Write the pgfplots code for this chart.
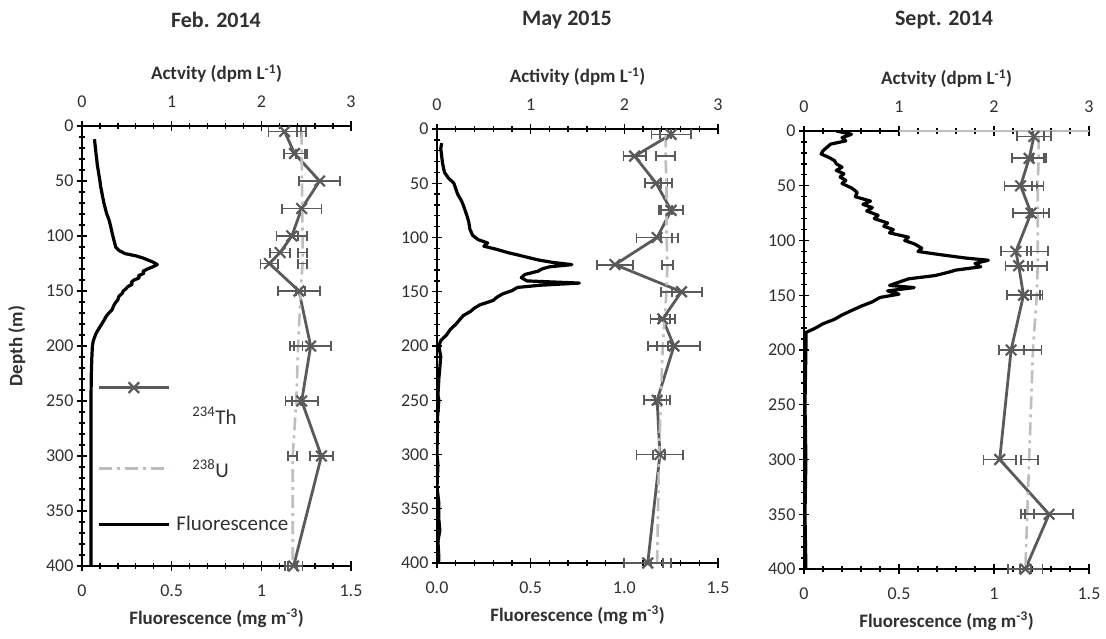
\documentclass[border=0pt]{standalone}
\usepackage{pgfplots}
\pgfplotsset{compat=1.18}
\usepackage{fontspec}
\setmainfont{Carlito}
\definecolor{thc}{HTML}{5A5A5A}
\definecolor{uc}{HTML}{BEBEBE}
\definecolor{tl}{HTML}{303030}
\pgfplotsset{
  base/.style={scale only axis, y dir=reverse, ymin=0, ymax=400,
    tick align=center, major tick length=10pt, minor tick length=6pt,
    every tick/.append style={black, line width=1.3pt},
    axis line style={black, line width=2pt},
    tick label style={font=\fontsize{18}{20}\selectfont, text=tl},
    /pgf/number format/assume math mode=true,
    label style={font=\bfseries\fontsize{19}{22}\selectfont, text=tl},
    xticklabel shift=10pt,
  },
  fl/.style={base, xmin=0, xmax=1.5, axis x line*=bottom, axis y line*=left,
    xtick={0,0.5,1,1.5}, minor x tick num=4,
    ytick={0,50,...,400}, minor y tick num=4,
    xlabel style={yshift=-6pt},
    xlabel={Fluorescence (mg m\textsuperscript{-3})}},
  act/.style={base, xmin=0, xmax=3, axis x line*=top, axis y line=none, ytick=\empty,
    xtick={0,1,2,3}, minor x tick num=4, clip=false, xlabel style={yshift=6pt}},
  flp/.style={black, line width=3.2pt, line join=round},
  ebar/.style={error bars/x dir=both, error bars/x explicit, error bars/error mark=|,
    error bars/error bar style={thc, solid, line width=1.8pt},
    error bars/error mark options={thc, solid, line width=1.8pt, mark size=5pt}},
  thp/.style={thc, line width=2.8pt, mark=x, mark size=7.5pt, mark options={solid, line width=2.2pt}, ebar},
  up/.style={uc, line width=2.6pt, dash pattern=on 13pt off 5pt on 3pt off 5pt, ebar},
  thleg/.style={legend image code/.code={\draw[##1, overlay, mark repeat=2, mark phase=2] plot coordinates {(0pt,31pt) (35pt,31pt) (70pt,31pt)};}},
  uleg/.style={legend image code/.code={\draw[##1, overlay] (0pt,3pt) -- (70pt,3pt);}},
  flleg/.style={legend image code/.code={\draw[##1] (0pt,0pt) -- (70pt,0pt);}},
}
\begin{document}
\begin{tikzpicture}
\path[use as bounding box] (0,0) rectangle (1106pt,638pt);
%================ Panel 1: Feb. 2014
\begin{axis}[fl, at={(82pt,72pt)}, anchor=south west, width=269pt, height=440pt,
  xticklabels={0,0.5,1,1.5}, ylabel={Depth (m)},
  ylabel style={at={(axis description cs:-0.242,0.5)}, anchor=center}]
\addplot[flp] coordinates {
(0.070,12) (0.072,16) (0.075,20) (0.078,25) (0.082,30) (0.085,35) (0.090,40) (0.095,45) (0.100,50) (0.104,55) (0.110,60) (0.116,65) (0.122,70) (0.130,75) (0.138,80) (0.150,85) (0.158,90) (0.165,95) (0.172,100) (0.180,105) (0.188,110) (0.205,113) (0.240,116) (0.300,118) (0.340,120) (0.370,122) (0.400,124) (0.420,126) (0.395,128) (0.365,130) (0.340,132) (0.345,134) (0.315,136) (0.320,138) (0.290,140) (0.275,142) (0.280,144) (0.255,146) (0.245,148) (0.230,150) (0.225,152) (0.205,155) (0.200,158) (0.185,161) (0.175,164) (0.168,167) (0.150,170) (0.135,173) (0.125,176) (0.110,180) (0.095,184) (0.080,188) (0.070,192) (0.062,196) (0.058,200) (0.055,210) (0.052,225) (0.050,250) (0.050,300) (0.050,350) (0.050,400)};
\end{axis}
\begin{axis}[act, at={(82pt,72pt)}, anchor=south west, width=269pt, height=440pt,
  xlabel={Actvity (dpm L\textsuperscript{-1})},
  legend cell align=left,
  legend style={draw=none, fill=none, at={(axis description cs:0.056,0.357)}, anchor=north west,
    inner sep=0pt, row sep=34pt, column sep=6pt, font=\fontsize{21}{24}\selectfont, text=tl,
    nodes={inner sep=0pt, text height=15pt, text depth=4pt}}]
\addplot[thp, thleg] coordinates {
(2.26,5) +- (0.18,0) (2.37,25) +- (0.12,0) (2.65,50) +- (0.23,0) (2.45,75) +- (0.22,0) (2.34,100) +- (0.17,0) (2.21,115) +- (0.11,0) (2.09,125) +- (0.10,0) (2.42,150) +- (0.23,0) (2.55,200) +- (0.23,0) (2.45,250) +- (0.18,0) (2.67,300) +- (0.13,0) (2.36,400) +- (0.10,0)};
\addlegendentry{\hspace{16pt}\textsuperscript{234}Th}
\addplot[up, uleg] coordinates {
(2.45,5) +- (0.05,0) (2.45,25) +- (0.06,0) (2.46,100) +- (0.05,0) (2.46,115) +- (0.05,0) (2.46,125) +- (0.05,0) (2.44,150) +- (0.05,0) (2.41,200) +- (0.05,0) (2.39,250) +- (0.05,0) (2.35,300) +- (0.05,0) (2.35,400) +- (0.05,0)};
\addlegendentry{\hspace{16pt}\textsuperscript{238}U}
\addlegendimage{black, line width=3.2pt, flleg}
\addlegendentry{Fluorescence}
\end{axis}
\node[font=\bfseries\fontsize{22}{26}\selectfont, text=tl] at (216pt,618pt) {Feb. 2014};
%================ Panel 2: May 2015
\begin{axis}[fl, at={(437pt,75pt)}, anchor=south west, width=281pt, height=434pt,
  xticklabels={0.0,0.5,1.0,1.5}]
\addplot[flp] coordinates {
(0.025,13) (0.020,18) (0.025,25) (0.030,32) (0.040,40) (0.060,45) (0.090,50) (0.100,55) (0.110,60) (0.130,66) (0.140,70) (0.150,75) (0.160,80) (0.170,86) (0.175,92) (0.190,98) (0.220,102) (0.270,105) (0.250,108) (0.320,111) (0.380,114) (0.430,116) (0.500,119) (0.550,121) (0.620,123) (0.720,125) (0.600,127) (0.560,129) (0.540,131) (0.470,134) (0.450,137) (0.480,140) (0.760,142) (0.550,144) (0.430,146) (0.400,149) (0.350,152) (0.320,155) (0.300,158) (0.230,162) (0.200,165) (0.180,168) (0.140,172) (0.120,176) (0.100,180) (0.070,185) (0.050,190) (0.020,195) (0.010,200) (0.020,210) (0.015,220) (0.010,230) (0.005,245) (0.010,250) (0.003,265) (0.000,300) (0.005,310) (0.000,330) (0.010,345) (0.010,360) (0.015,370) (0.005,380) (0.010,395) (0.008,400)};
\end{axis}
\begin{axis}[act, at={(437pt,75pt)}, anchor=south west, width=281pt, height=434pt,
  xlabel={Activity (dpm L\textsuperscript{-1})}]
\addplot[thp] coordinates {
(2.50,5) +- (0.21,0) (2.11,25) +- (0.12,0) (2.34,50) +- (0.12,0) (2.50,75) +- (0.13,0) (2.35,100) +- (0.22,0) (1.90,125) +- (0.19,0) (2.61,150) +- (0.22,0) (2.41,175) +- (0.13,0) (2.53,200) +- (0.28,0) (2.35,250) +- (0.14,0) (2.38,300) +- (0.25,0) (2.25,400) +- (0.25,0)};
\addplot[up] coordinates {
(2.44,5) +- (0.06,0) (2.44,25) +- (0.10,0) (2.45,50) +- (0.06,0) (2.45,75) +- (0.06,0) (2.45,100) +- (0.06,0) (2.46,125) +- (0.06,0) (2.45,150) +- (0.06,0) (2.43,175) +- (0.06,0) (2.41,200) +- (0.06,0) (2.39,250) +- (0.06,0) (2.37,300) +- (0.06,0) (2.35,400) +- (0.06,0)};
\end{axis}
\node[font=\bfseries\fontsize{22}{26}\selectfont, text=tl] at (567pt,618pt) {May 2015};
%================ Panel 3: Sept. 2014
\begin{axis}[fl, at={(804pt,69pt)}, anchor=south west, width=285pt, height=438pt,
  xticklabels={0,0.5,1,1.5}]
\addplot[flp] coordinates {
(0.17,0) (0.25,3) (0.20,6) (0.22,9) (0.14,12) (0.12,15) (0.10,18) (0.09,21) (0.13,24) (0.16,27) (0.17,30) (0.20,33) (0.17,36) (0.21,39) (0.19,42) (0.22,45) (0.20,48) (0.25,52) (0.28,56) (0.27,60) (0.35,64) (0.31,67) (0.36,70) (0.33,73) (0.39,77) (0.37,80) (0.44,84) (0.42,87) (0.47,90) (0.45,93) (0.55,97) (0.53,100) (0.58,103) (0.62,107) (0.60,110) (0.72,113) (0.85,116) (0.97,118) (0.90,121) (0.93,124) (0.80,127) (0.76,129) (0.69,132) (0.55,135) (0.50,138) (0.45,141) (0.58,143) (0.44,146) (0.50,149) (0.40,152) (0.36,156) (0.30,160) (0.25,164) (0.20,168) (0.16,172) (0.10,176) (0.06,180) (0.01,184) (0.01,200) (0.005,250) (0.01,300) (0.005,350) (0.01,400)};
\end{axis}
\begin{axis}[act, at={(804pt,69pt)}, anchor=south west, width=285pt, height=438pt,
  xlabel={Actvity (dpm L\textsuperscript{-1})}]
\addplot[uc, line width=2pt] coordinates {(1,0) (3,0)};
\addplot[thp] coordinates {
(2.42,5) +- (0.18,0) (2.37,25) +- (0.18,0) (2.28,50) +- (0.17,0) (2.39,75) +- (0.19,0) (2.23,110) +- (0.16,0) (2.26,123) +- (0.14,0) (2.31,150) +- (0.17,0) (2.18,200) +- (0.13,0) (2.06,300) +- (0.17,0) (2.58,350) +- (0.25,0) (2.33,400) +- (0.18,0)};
\addplot[up] coordinates {
(2.47,5) +- (0.06,0) (2.47,25) +- (0.06,0) (2.46,50) +- (0.06,0) (2.46,75) +- (0.06,0) (2.46,110) +- (0.11,0) (2.46,123) +- (0.10,0) (2.45,150) +- (0.06,0) (2.41,200) +- (0.09,0) (2.37,300) +- (0.09,0) (2.35,350) +- (0.07,0) (2.33,400) +- (0.06,0)};
\end{axis}
\node[font=\bfseries\fontsize{22}{26}\selectfont, text=tl] at (944pt,618pt) {Sept. 2014};
\end{tikzpicture}
\end{document}
